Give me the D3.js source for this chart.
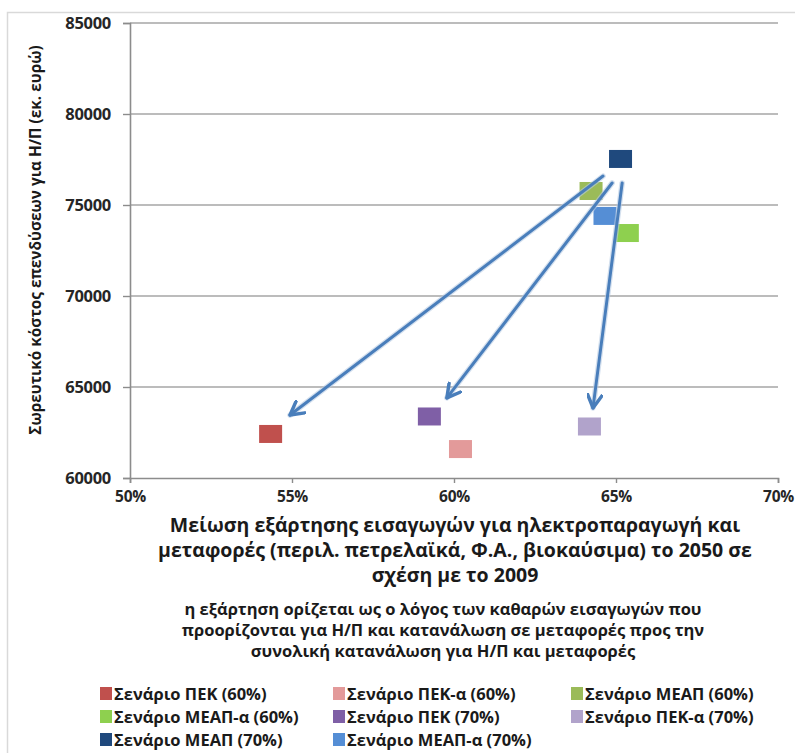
<!DOCTYPE html>
<html>
<head>
<meta charset="utf-8">
<script src="https://cdn.jsdelivr.net/npm/d3@7"></script>
<style>
  html, body { margin: 0; padding: 0; background: #fff; }
  svg { display: block; font-family: "Open Sans", "DejaVu Sans", sans-serif; }
</style>
</head>
<body>
<svg id="chart" width="795" height="753"></svg>
<script>
// ---- data ----
const categories = [
  "Σενάριο ΠΕΚ (60%)", "Σενάριο ΠΕΚ-α (60%)", "Σενάριο ΜΕΑΠ (60%)",
  "Σενάριο ΜΕΑΠ-α (60%)", "Σενάριο ΠΕΚ (70%)", "Σενάριο ΠΕΚ-α (70%)",
  "Σενάριο ΜΕΑΠ (70%)", "Σενάριο ΜΕΑΠ-α (70%)"
];
const importReduction = [54.34, 60.2, 64.23, 65.35, 59.24, 64.18, 65.14, 64.66]; // %
const cumulativeCost = [62420, 61590, 75770, 73460, 63380, 62830, 77530, 74400]; // εκ. ευρώ
const seriesColors = ["#c0504d", "#e39a9a", "#9bbb59", "#8ed04f", "#7f5fa6", "#b1a3cb", "#1f497d", "#558ed5"];

const xTicks = [50, 55, 60, 65, 70];
const yTicks = [60000, 65000, 70000, 75000, 80000, 85000];

// arrows (annotation), in data coordinates
const arrowFromX = [64.6, 64.88, 65.19];
const arrowFromY = [76590, 76210, 76210];
const arrowToX = [54.94, 59.78, 64.29];
const arrowToY = [63460, 64400, 63850];

const yTitle = "Σωρευτικό κόστος επενδύσεων για Η/Π (εκ. ευρώ)";
const xTitleLines = [
  "Μείωση εξάρτησης εισαγωγών για ηλεκτροπαραγωγή και",
  "μεταφορές (περιλ. πετρελαϊκά, Φ.Α., βιοκαύσιμα) το 2050 σε",
  "σχέση με το 2009"
];
const noteLines = [
  "η εξάρτηση ορίζεται ως ο λόγος των καθαρών εισαγωγών που",
  "προορίζονται για Η/Π και κατανάλωση σε μεταφορές προς την",
  "συνολική κατανάλωση για Η/Π και μεταφορές"
];

// ---- layout ----
const svg = d3.select("#chart");
const W = 795, H = 753;
const plot = { left: 130, right: 778, top: 23, bottom: 478 };

svg.append("rect")
  .attr("x", 7.5).attr("y", 12.5).attr("width", W).attr("height", H)
  .attr("fill", "#fff").attr("stroke", "#d9d9d9").attr("stroke-width", 1.5);

const x = d3.scaleLinear().domain([50, 70]).range([plot.left, plot.right]);
const y = d3.scaleLinear().domain([60000, 85000]).range([plot.bottom, plot.top]);

// gridlines
svg.append("g").selectAll("line").data(yTicks.filter(v => v > 60000)).join("line")
  .attr("x1", plot.left).attr("x2", plot.right)
  .attr("y1", d => y(d)).attr("y2", d => y(d))
  .attr("stroke", "#a6a6a6").attr("stroke-width", 1.6);

// y axis
const yAxis = svg.append("g").attr("transform", `translate(${plot.left},0)`)
  .call(d3.axisLeft(y).tickValues(yTicks).tickSize(7).tickPadding(12).tickFormat(d3.format("d")));
yAxis.select(".domain").attr("stroke", "#8c8c8c").attr("stroke-width", 1.6);
yAxis.selectAll(".tick line").attr("stroke", "#8c8c8c").attr("stroke-width", 1.4);
yAxis.selectAll(".tick text").attr("font-size", 16.5).attr("font-weight", 700)
  .attr("fill", "#262626").attr("font-family", "Open Sans").attr("letter-spacing", -0.3);

// x axis
const xAxis = svg.append("g").attr("transform", `translate(0,${plot.bottom})`)
  .call(d3.axisBottom(x).tickValues(xTicks).tickSize(5).tickPadding(8).tickFormat(d => d + "%"));
xAxis.select(".domain").attr("stroke", "#8c8c8c").attr("stroke-width", 1.6);
xAxis.selectAll(".tick line").attr("stroke", "#8c8c8c").attr("stroke-width", 1.4);
xAxis.selectAll(".tick text").attr("font-size", 15.5).attr("font-weight", 700)
  .attr("fill", "#262626").attr("font-family", "Open Sans").attr("letter-spacing", -0.3);

// markers
const mw = 23, mh = 18;
svg.append("g").selectAll("rect").data(categories.map((c, i) => i)).join("rect")
  .attr("x", i => x(importReduction[i]) - mw / 2)
  .attr("y", i => y(cumulativeCost[i]) - mh / 2)
  .attr("width", mw).attr("height", mh)
  .attr("fill", i => seriesColors[i]);

// arrows
const defs = svg.append("defs");
defs.append("filter").attr("id", "glow").attr("x", "-20%").attr("y", "-20%").attr("width", "140%").attr("height", "140%")
  .append("feGaussianBlur").attr("stdDeviation", 0.6);
defs.append("marker").attr("id", "ah")
  .attr("viewBox", "0 0 12 12").attr("refX", 10).attr("refY", 6)
  .attr("markerWidth", 5.8).attr("markerHeight", 5.8).attr("orient", "auto")
  .attr("markerUnits", "strokeWidth")
  .append("path").attr("d", "M1,1 L10,6 L1,11")
  .attr("fill", "none").attr("stroke", "#4a7ebb").attr("stroke-width", 2.4)
  .attr("stroke-linecap", "round").attr("stroke-linejoin", "round");

const arrows = svg.append("g");
arrowFromX.forEach((fx, i) => {
  arrows.append("line")
    .attr("x1", x(fx)).attr("y1", y(arrowFromY[i]))
    .attr("x2", x(arrowToX[i])).attr("y2", y(arrowToY[i]))
    .attr("stroke", "#b8cce4").attr("stroke-width", 5.5).attr("stroke-linecap", "round")
    .attr("opacity", 0.6);
  arrows.append("line")
    .attr("x1", x(fx)).attr("y1", y(arrowFromY[i]))
    .attr("x2", x(arrowToX[i])).attr("y2", y(arrowToY[i]))
    .attr("stroke", "#4a7ebb").attr("stroke-width", 3).attr("stroke-linecap", "round")
    .attr("marker-end", "url(#ah)").attr("filter", "url(#glow)");
});

// y title
svg.append("text")
  .attr("transform", `translate(41,240) rotate(-90)`)
  .attr("text-anchor", "middle")
  .attr("font-size", 15.4).attr("font-weight", 700).attr("fill", "#1a1a1a")
  .text(yTitle);

// x title
const cx = 455;
svg.append("g").selectAll("text").data(xTitleLines).join("text")
  .attr("x", cx).attr("y", (d, i) => 532 + i * 25)
  .attr("text-anchor", "middle").attr("font-size", 19.5).attr("font-weight", 700)
  .attr("fill", "#1a1a1a").text(d => d);

// note
svg.append("g").selectAll("text").data(noteLines).join("text")
  .attr("x", cx - 12).attr("y", (d, i) => 615 + i * 21)
  .attr("text-anchor", "middle").attr("font-size", 16.5).attr("font-weight", 700)
  .attr("fill", "#1a1a1a").text(d => d);

// legend
const colX = [100, 333, 571];
const rowY = [694, 717, 740];
const leg = svg.append("g").selectAll("g").data(categories.map((c, i) => i)).join("g")
  .attr("transform", i => `translate(${colX[i % 3]},${rowY[Math.floor(i / 3)]})`);
leg.append("rect").attr("x", 0).attr("y", -7).attr("width", 12).attr("height", 13)
  .attr("fill", i => seriesColors[i]);
leg.append("text").attr("x", 14).attr("y", 6)
  .attr("font-size", 16.5).attr("font-weight", 700).attr("fill", "#1a1a1a")
  .text(i => categories[i]);
</script>
</body>
</html>
